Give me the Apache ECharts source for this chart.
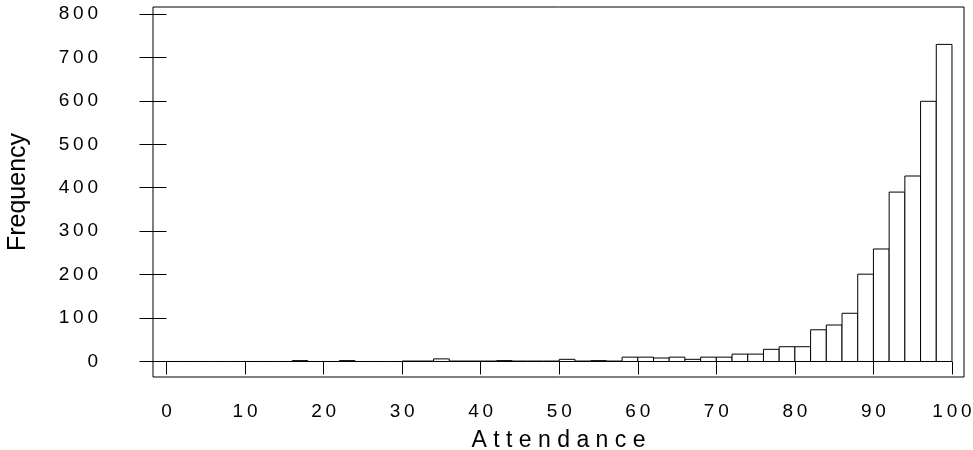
<!DOCTYPE html>
<html>
<head>
<meta charset="utf-8">
<script src="https://cdn.jsdelivr.net/npm/echarts@6/dist/echarts.min.js"></script>
<style>
  html, body { margin: 0; padding: 0; background: #fff; }
  #chart { width: 973px; height: 450px; }
</style>
</head>
<body>
<div id="chart"></div>
<script>
// bin left edges (width 2) and counts
const binStarts = [0, 2, 4, 6, 8, 10, 12, 14, 16, 18, 20, 22, 24, 26, 28, 30, 32, 34, 36, 38,
  40, 42, 44, 46, 48, 50, 52, 54, 56, 58, 60, 62, 64, 66, 68, 70, 72, 74, 76, 78,
  80, 82, 84, 86, 88, 90, 92, 94, 96, 98];
const counts = [0, 0, 0, 0, 0, 0, 0, 0, 2, 0, 0, 2, 0, 0, 0, 1, 1, 6, 1, 1,
  1, 2, 1, 1, 1, 5, 1, 2, 1, 10, 10, 8, 10, 5, 10, 10, 17, 17, 28, 34,
  34, 73, 84, 111, 201, 259, 390, 427, 599, 730];
const binWidth = 2;
const xTicks = [0, 10, 20, 30, 40, 50, 60, 70, 80, 90, 100];
const yTicks = [0, 100, 200, 300, 400, 500, 600, 700, 800];

// R-style spaced digits
const spaced = (v) => String(v).split('').join('\u2009');

const chart = echarts.init(document.getElementById('chart'));

const fontFamily = '"Liberation Sans", Arial, sans-serif';

chart.setOption({
  animation: false,
  grid: {
    show: true,
    left: 153, right: 9, top: 7, bottom: 73,
    outerBoundsMode: 'none',
    containLabel: false,
    borderColor: '#000', borderWidth: 1,
    backgroundColor: 'transparent'
  },
  xAxis: {
    type: 'value',
    min: -1.72, max: 101.53,
    axisLine: { show: false },
    splitLine: { show: false },
    axisTick: {
      show: true, length: 13, customValues: xTicks,
      lineStyle: { color: '#000', width: 1 }
    },
    axisLabel: {
      customValues: xTicks,
      formatter: spaced,
      margin: 25,
      color: '#000', fontSize: 19, fontFamily: fontFamily
    },
    name: 'Attendance'.split('').join(' '),
    nameLocation: 'middle',
    nameGap: 52,
    nameTextStyle: { color: '#000', fontSize: 23, fontFamily: fontFamily }
  },
  yAxis: {
    type: 'value',
    min: -35.7, max: 816.1,
    axisLine: { show: false },
    splitLine: { show: false },
    axisTick: {
      show: true, length: 27, customValues: yTicks,
      lineStyle: { color: '#000', width: 1 }
    },
    axisLabel: {
      customValues: yTicks,
      formatter: spaced,
      margin: 55,
      color: '#000', fontSize: 19, fontFamily: fontFamily
    },
    name: 'Frequency',
    nameLocation: 'middle',
    nameGap: 122,
    nameRotate: 90,
    nameTextStyle: { color: '#000', fontSize: 25, fontFamily: fontFamily }
  },
  series: [{
    type: 'custom',
    data: binStarts.map((s, i) => [s, s + binWidth, counts[i]]),
    encode: { x: [0, 1], y: 2 },
    renderItem: function (params, api) {
      const p0 = api.coord([api.value(0), 0]);
      const p1 = api.coord([api.value(1), api.value(2)]);
      return {
        type: 'rect',
        shape: { x: p0[0], y: p1[1], width: p1[0] - p0[0], height: p0[1] - p1[1] },
        style: { fill: '#fff', stroke: '#000', lineWidth: 1 }
      };
    }
  }]
});
</script>
</body>
</html>
